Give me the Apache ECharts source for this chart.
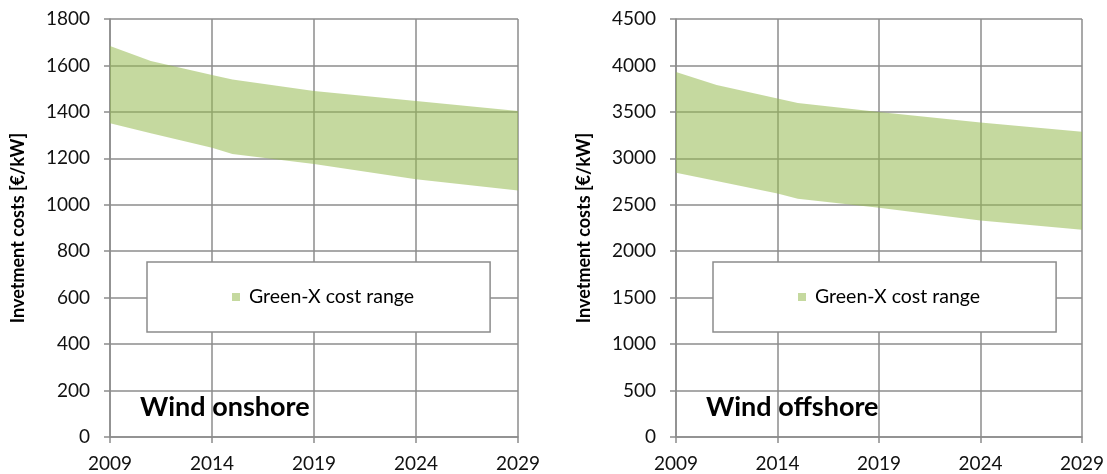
<!DOCTYPE html>
<html>
<head>
<meta charset="utf-8">
<script src="https://cdn.jsdelivr.net/npm/echarts@6/dist/echarts.min.js"></script>
<style>html,body{margin:0;padding:0;background:#fff}#c{width:1107px;height:474px}</style>
</head>
<body>
<div id="c"></div>
<script>
// Data
const years = ['2009','2010','2011','2012','2013','2014','2015','2016','2017','2018','2019',
               '2020','2021','2022','2023','2024','2025','2026','2027','2028','2029'];
const onshoreYears = ['2009', '2011', '2014', '2015', '2019', '2024', '2029'];
const onshoreLow   = [1351, 1308, 1246, 1219, 1176, 1110, 1062];
const onshoreHigh  = [1684, 1619, 1559, 1540, 1490, 1447, 1404];
const offshoreYears = ['2009', '2011', '2014', '2015', '2019', '2024', '2029'];
const offshoreLow   = [2845, 2757, 2621, 2566, 2467, 2330, 2232];
const offshoreHigh  = [3930, 3790, 3645, 3597, 3500, 3386, 3285];
const seriesName = 'Green-X cost range';
const titles = ['Wind onshore', 'Wind offshore'];
const yName = 'Invetment costs [€/kW]';

const FONT = 'Lato';
const GRID = '#8c8c8c';
const GREEN = 'rgba(150,185,80,0.55)';

function pairs(ys, vals) { return ys.map((y, i) => [y, vals[i]]); }
function band(ys, lo, hi) { return ys.map((y, i) => [y, hi[i] - lo[i]]); }

function xAxis(idx) {
  return {
    type: 'category', gridIndex: idx, data: years, boundaryGap: false,
    axisLine: { show: true, lineStyle: { color: GRID, width: 1.5 } },
    axisTick: { show: true, length: 6, interval: 4, lineStyle: { color: GRID, width: 1.5 } },
    splitLine: { show: true, interval: 4, lineStyle: { color: GRID, width: 1.5 } },
    axisLabel: { color: '#111', fontFamily: FONT, fontSize: 19, margin: 17, interval: 4 }
  };
}
function yAxis(idx, max, interval) {
  return {
    type: 'value', gridIndex: idx, min: 0, max: max, interval: interval,
    name: yName, nameLocation: 'middle', nameGap: 83,
    nameTextStyle: { color: '#000', fontFamily: FONT, fontWeight: 'bold', fontSize: 18 },
    axisLine: { show: true, lineStyle: { color: GRID, width: 1.5 } },
    axisTick: { show: true, length: 6, lineStyle: { color: GRID, width: 1.5 } },
    splitLine: { show: true, lineStyle: { color: GRID, width: 1.5 } },
    axisLabel: { color: '#111', fontFamily: FONT, fontSize: 19, margin: 20,
      formatter: v => String(v) }
  };
}
function lowSeries(idx, name, ys, lo) {
  return { name: name, type: 'line', xAxisIndex: idx, yAxisIndex: idx, stack: 's' + idx,
    data: pairs(ys, lo), symbol: 'none', lineStyle: { width: 0, opacity: 0 },
    areaStyle: { opacity: 0 }, silent: true, z: 2 };
}
function bandSeries(idx, ys, lo, hi) {
  return { name: seriesName, type: 'line', xAxisIndex: idx, yAxisIndex: idx, stack: 's' + idx,
    data: band(ys, lo, hi), symbol: 'none', lineStyle: { width: 0, opacity: 0 },
    itemStyle: { color: GREEN }, areaStyle: { color: GREEN, opacity: 1 }, z: 2 };
}
function legend(left) {
  return { left: left, top: 262, orient: 'horizontal', data: [seriesName],
    icon: 'rect', itemWidth: 8, itemHeight: 8,
    backgroundColor: '#fff', borderColor: '#8c8c8c', borderWidth: 1.5,
    padding: [25, 76, 25, 85],
    textStyle: { color: '#000', fontFamily: FONT, fontSize: 19.5, padding: [0, 0, 0, 4] } };
}

const chart = echarts.init(document.getElementById('c'), null, { renderer: 'canvas' });
chart.setOption({
  animation: false,
  backgroundColor: '#fff',
  grid: [
    { left: 110, top: 19, width: 408, height: 418 },
    { left: 676, top: 19, width: 408, height: 418 }
  ],
  title: [
    { text: titles[0], left: 140, top: 394, padding: 0,
      textStyle: { fontFamily: FONT, fontWeight: 'bold', fontSize: 27, color: '#000' } },
    { text: titles[1], left: 706, top: 394, padding: 0,
      textStyle: { fontFamily: FONT, fontWeight: 'bold', fontSize: 27, color: '#000' } }
  ],
  legend: [legend(147), legend(713)],
  xAxis: [xAxis(0), xAxis(1)],
  yAxis: [yAxis(0, 1800, 200), yAxis(1, 4500, 500)],
  series: [
    lowSeries(0, 'onLow', onshoreYears, onshoreLow),
    bandSeries(0, onshoreYears, onshoreLow, onshoreHigh),
    lowSeries(1, 'offLow', offshoreYears, offshoreLow),
    bandSeries(1, offshoreYears, offshoreLow, offshoreHigh)
  ]
});
</script>
</body>
</html>
